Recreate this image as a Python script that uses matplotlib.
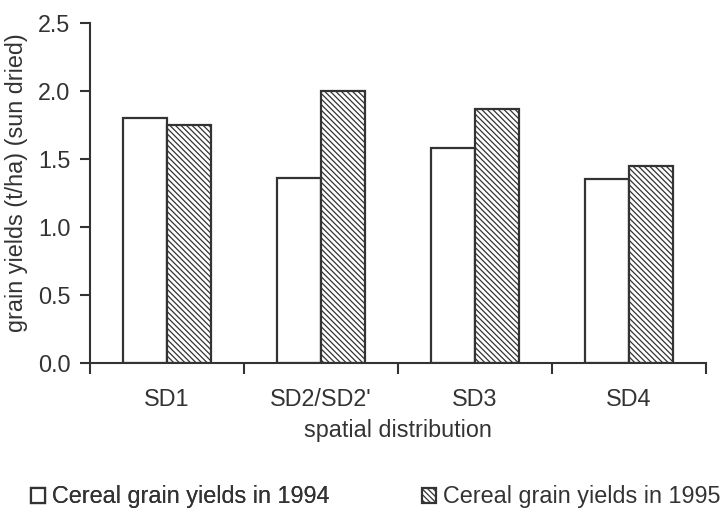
import matplotlib
matplotlib.use("Agg")
import matplotlib.pyplot as plt
import numpy as np
from matplotlib.ticker import FormatStrFormatter

categories = ["SD1", "SD2/SD2'", "SD3", "SD4"]
yields_1994 = [1.80, 1.36, 1.58, 1.35]
yields_1995 = [1.75, 2.00, 1.87, 1.45]
series_labels = ["Cereal grain yields in 1994", "Cereal grain yields in 1995"]

plt.rcParams['font.family'] = ['Liberation Sans', 'DejaVu Sans']
plt.rcParams['hatch.linewidth'] = 0.9
plt.rcParams['hatch.color'] = '#3a3a3a'

ink = '#333333'
fs = 16.8

fig = plt.figure(figsize=(7.24, 5.08), dpi=100)
ax = fig.add_axes([90/724, 1-363/508, (706-90)/724, (363-23)/508])

x = np.arange(len(categories)) + 0.5
w = 0.286
b1 = ax.bar(x - w/2, yields_1994, width=w, color='white', edgecolor=ink, linewidth=1.6,
            label=series_labels[0])
b2 = ax.bar(x + w/2, yields_1995, width=w, color='white', edgecolor=ink, linewidth=1.6,
            hatch='\\\\\\\\\\\\', label=series_labels[1])

ax.set_xlim(0, len(categories))
ax.set_ylim(0, 2.5)
ax.set_yticks(np.arange(0, 2.51, 0.5))
ax.yaxis.set_major_formatter(FormatStrFormatter('%.1f'))
ax.set_xticks(np.arange(0, len(categories) + 1))
ax.set_xticklabels([])
ax.set_xticks(x, minor=True)
ax.set_xticklabels(categories, minor=True)

for s in ['top', 'right']:
    ax.spines[s].set_visible(False)
for s in ['left', 'bottom']:
    ax.spines[s].set_color(ink)
    ax.spines[s].set_linewidth(1.5)

ax.tick_params(axis='y', which='major', direction='out', length=7, width=1.5,
               color=ink, labelcolor=ink, labelsize=fs, pad=7)
ax.tick_params(axis='x', which='major', direction='out', length=8, width=1.5, color=ink)
ax.tick_params(axis='x', which='minor', length=0, labelcolor=ink, labelsize=fs, pad=18)

ax.set_ylabel("grain yields (t/ha) (sun dried)", fontsize=fs, color=ink)
ax.yaxis.set_label_coords(-62/616, 0.53)
ax.set_xlabel("spatial distribution", fontsize=fs, color=ink, labelpad=6)

common = dict(loc='center left', frameon=False, fontsize=fs, labelcolor=ink,
              handlelength=0.6, handleheight=0.6, handletextpad=0.3,
              borderpad=0, borderaxespad=0)
leg1 = fig.legend(handles=[b1], labels=[series_labels[0]],
                  bbox_to_anchor=(31/724, 1-497/508), **common)
fig.add_artist(leg1)
fig.legend(handles=[b2], labels=[series_labels[1]],
           bbox_to_anchor=(422/724, 1-497/508), **common)

fig.savefig("out.png", dpi=100)
